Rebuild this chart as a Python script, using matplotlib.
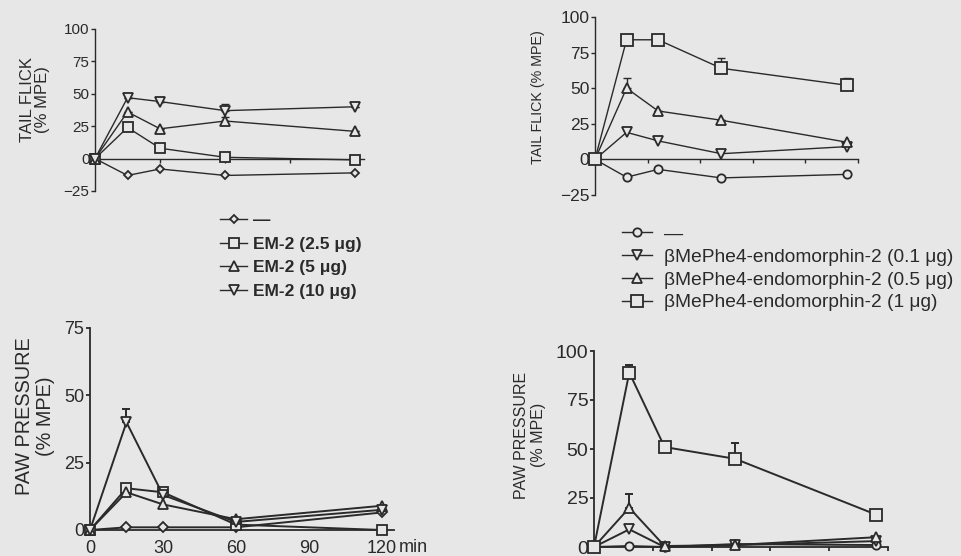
import matplotlib
matplotlib.use('Agg')
from matplotlib import pyplot as plt
import numpy as np

plt.rcParams['font.family'] = ['Liberation Sans', 'DejaVu Sans']

W, H = 962, 556
bg = '#e7e7e7'
ink = '#2a2a2a'

minutes = [0, 15, 30, 60, 120]

# EM-2, tail flick (% MPE)
tf_ctrl = [0, -13, -8, -13, -11]
tf_em2_2_5 = [0, 24, 8, 1, -1]
tf_em2_5 = [0, 36, 23, 29, 21]
tf_em2_10 = [0, 47, 44, 37, 40]

# bMePhe4-endomorphin-2, tail flick (% MPE)
tf_b_ctrl = [0, -12.5, -7, -13, -10.5]
tf_b_0_1 = [0, 19, 13, 4, 9]
tf_b_0_5 = [0, 50, 34, 27.5, 12]
tf_b_1 = [0, 84, 84, 64, 52]

# EM-2, paw pressure (% MPE)
pp_ctrl = [0, 1, 1, 1, 6.5]
pp_em2_2_5 = [0, 15.5, 14, 2, 0]
pp_em2_5 = [0, 14, 9.5, 4, 9]
pp_em2_10 = [0, 40, 13, 3, 7.5]

# bMePhe4-endomorphin-2, paw pressure (% MPE)
pp_b_ctrl = [0, 0.5, 0, 1.5, 1]
pp_b_0_1 = [0, 9, 0, 1, 3]
pp_b_0_5 = [0, 20, 0.5, 1, 5]
pp_b_1 = [0, 89, 51, 45, 16.5]

# error bars (upper only where only the cap shows)
tf_em2_10_err = [0, 0, 0, 5, 0]
tf_em2_5_err = [0, 0, 0, 3, 0]
tf_b_0_5_err = [0, 7, 0, 0, 0]
tf_b_1_err = [0, 2, 2, 7, 5]
pp_em2_10_err = [0, 5, 0, 0, 0]
pp_b_0_5_err = [0, 7, 0, 0, 0]
pp_b_1_err = [0, 4, 0, 8, 0]

lbl_em2 = ['\u2014', 'EM-2 (2.5 \u03bcg)', 'EM-2 (5 \u03bcg)', 'EM-2 (10 \u03bcg)']
lbl_b = ['\u2014', '\u03b2MePhe4-endomorphin-2 (0.1 \u03bcg)',
         '\u03b2MePhe4-endomorphin-2 (0.5 \u03bcg)',
         '\u03b2MePhe4-endomorphin-2 (1 \u03bcg)']


def px_axes(fig, left, top, right, bottom):
    return fig.add_axes([left / W, 1 - bottom / H, (right - left) / W, (bottom - top) / H])


def style(ax, ylim, yticks, xlim, xticks, tsize, lw=1.0):
    ax.set_facecolor('none')
    ax.set_xlim(*xlim)
    ax.set_ylim(*ylim)
    for s in ['top', 'right']:
        ax.spines[s].set_visible(False)
    ax.spines['bottom'].set_position(('data', 0))
    for s in ['left', 'bottom']:
        ax.spines[s].set_color(ink)
        ax.spines[s].set_linewidth(lw)
    ax.set_yticks(yticks)
    ax.set_xticks(xticks)
    ax.tick_params(colors=ink, labelsize=tsize, length=3, width=lw, pad=1)


def series(ax, y, marker, ms, yerr=None, label=None, lw=1.0):
    if yerr is not None:
        ax.errorbar(minutes, y, yerr=[np.zeros(len(y)), yerr], fmt='none',
                    ecolor=ink, elinewidth=lw, capsize=3, capthick=lw, clip_on=False, zorder=2)
    line, = ax.plot(minutes, y, color=ink, lw=lw, marker=marker, ms=ms,
                    mfc=bg, mec=ink, mew=1.3, clip_on=False, zorder=3, label=label)
    return line


fig = plt.figure(figsize=(W / 100, H / 100), dpi=100, facecolor=bg)

# top left
ax1 = px_axes(fig, 95, 29, 364, 191)
style(ax1, (-25, 100), [-25, 0, 25, 50, 75, 100], (0, 124), [30, 60, 90, 120], 11)
ax1.set_xticklabels([])
h1 = [series(ax1, tf_ctrl, 'D', 4.5),
      series(ax1, tf_em2_2_5, 's', 6.5),
      series(ax1, tf_em2_5, '^', 6.5, tf_em2_5_err),
      series(ax1, tf_em2_10, 'v', 6.5, tf_em2_10_err)]
fig.text(35 / W, 1 - 100 / H, 'TAIL FLICK\n(% MPE)', rotation=90, ha='center', va='center',
         fontsize=12, color=ink, linespacing=1.0)

# top right
ax2 = px_axes(fig, 595, 17, 858, 195)
style(ax2, (-25, 100), [-25, 0, 25, 50, 75, 100], (0, 125), [25, 50, 75, 100, 125], 12.5)
ax2.set_xticklabels([])
h2 = [series(ax2, tf_b_ctrl, 'o', 6),
      series(ax2, tf_b_0_1, 'v', 7),
      series(ax2, tf_b_0_5, '^', 7, tf_b_0_5_err),
      series(ax2, tf_b_1, 's', 9, tf_b_1_err)]
fig.text(538 / W, 1 - 97 / H, 'TAIL FLICK (% MPE)', rotation=90, ha='center', va='center',
         fontsize=10.3, color=ink)

# bottom left
ax3 = px_axes(fig, 90, 328, 394, 530)
style(ax3, (0, 75), [0, 25, 50, 75], (0, 125), [0, 30, 60, 90, 120], 13, lw=1.3)
ax3.tick_params(axis='x', labelsize=13, length=0, pad=7)
series(ax3, pp_ctrl, 'D', 5, lw=1.4)
series(ax3, pp_em2_2_5, 's', 7, lw=1.4)
series(ax3, pp_em2_5, '^', 7, lw=1.4)
series(ax3, pp_em2_10, 'v', 7, pp_em2_10_err, lw=1.4)
fig.text(413 / W, 1 - 548 / H, 'min', ha='center', va='center', fontsize=13, color=ink)
fig.text(35 / W, 1 - 416 / H, 'PAW PRESSURE\n(% MPE)', rotation=90, ha='center', va='center',
         fontsize=14.3, color=ink, linespacing=1.1)

# bottom right
ax4 = px_axes(fig, 594, 351, 888, 547)
style(ax4, (0, 100), [0, 25, 50, 75, 100], (0, 125), [25, 50, 75, 100, 125], 14, lw=1.3)
ax4.set_xticklabels([])
series(ax4, pp_b_ctrl, 'o', 6, lw=1.4)
series(ax4, pp_b_0_1, 'v', 7.5, lw=1.4)
series(ax4, pp_b_0_5, '^', 7.5, pp_b_0_5_err, lw=1.4)
series(ax4, pp_b_1, 's', 9, pp_b_1_err, lw=1.4)
fig.text(530 / W, 1 - 435 / H, 'PAW PRESSURE\n(% MPE)', rotation=90, ha='center', va='center',
         fontsize=11.5, color=ink, linespacing=1.1)

# legends
fig.legend(h1, lbl_em2, loc='upper left', bbox_to_anchor=(211 / W, 1 - 204 / H),
           frameon=False, handlelength=1.6, handletextpad=0.3,
           labelspacing=0.5, borderpad=0, labelcolor=ink,
           prop={'weight': 'bold', 'size': 12.5})
fig.legend(h2, lbl_b, loc='upper left', bbox_to_anchor=(612 / W, 1 - 216 / H),
           frameon=False, handlelength=1.6, handletextpad=0.6,
           labelspacing=0.28, borderpad=0, labelcolor=ink,
           prop={'size': 13.8})

fig.savefig('out.png', dpi=100, facecolor=bg)
